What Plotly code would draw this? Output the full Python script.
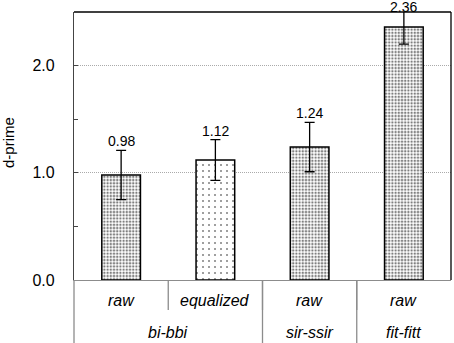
import plotly.graph_objects as go

conditions = ["raw", "equalized", "raw", "raw"]
groups = ["bi-bbi", "sir-ssir", "fit-fitt"]
group_spans = [(0, 1), (2, 2), (3, 3)]
dprime = [0.98, 1.12, 1.24, 2.36]
err = [0.23, 0.19, 0.23, 0.16]
value_labels = ["0.98", "1.12", "1.24", "2.36"]
pattern_size = [3.2, 6, 3.2, 3.2]
pattern_solidity = [0.45, 0.09, 0.45, 0.45]

FONT = "Liberation Sans"
YMAX = 2.5
pos = list(range(len(conditions)))

fig = go.Figure()
fig.add_trace(go.Bar(
    x=pos, y=dprime, width=0.41,
    marker=dict(color="white",
                line=dict(color="black", width=1.5),
                pattern=dict(shape=".", fgcolor="black", bgcolor="white",
                             size=pattern_size, solidity=pattern_solidity)),
    error_y=dict(type="data", array=err, visible=True, color="black",
                 thickness=1.3, width=5),
    cliponaxis=False,
))

for i, (v, e, lab) in enumerate(zip(dprime, err, value_labels)):
    fig.add_annotation(x=i, y=min(v + e, YMAX * 0.985), text=lab, showarrow=False,
                       yanchor="bottom", yshift=-1,
                       font=dict(family=FONT, size=14, color="black"))

# category labels row
for i, c in enumerate(conditions):
    fig.add_annotation(x=i, y=-0.078, xref="x", yref="paper", text=f"<i>{c}</i>",
                       showarrow=False, yanchor="middle",
                       font=dict(family=FONT, size=16, color="black"))
for g, (a, b) in zip(groups, group_spans):
    fig.add_annotation(x=(a + b) / 2, y=-0.195, xref="x", yref="paper", text=f"<i>{g}</i>",
                       showarrow=False, yanchor="middle",
                       font=dict(family=FONT, size=16, color="black"))

# y-axis title
fig.add_annotation(x=0, y=0.5, xref="paper", yref="paper", text="d-prime",
                   textangle=-90, showarrow=False, xanchor="center", xshift=-66,
                   yshift=3, font=dict(family=FONT, size=15, color="black"))

GRAY = "#8c8c8c"
shapes = []
for xsep in [0.5, 1.5, 2.5]:
    shapes.append(dict(type="line", xref="x", yref="paper", x0=xsep, x1=xsep,
                       y0=0, y1=-0.112, line=dict(color=GRAY, width=1.3)))
for xsep in [1.5, 2.5]:
    shapes.append(dict(type="line", xref="x", yref="paper", x0=xsep, x1=xsep,
                       y0=0, y1=-0.24, line=dict(color=GRAY, width=1.3)))
shapes.append(dict(type="line", xref="paper", yref="paper", x0=0, x1=0,
                   y0=0, y1=-0.24, line=dict(color=GRAY, width=1.3)))
shapes.append(dict(type="line", xref="paper", yref="paper", x0=0, x1=1,
                   y0=1, y1=1, line=dict(color="black", width=1.3)))
shapes.append(dict(type="line", xref="paper", yref="paper", x0=1, x1=1,
                   y0=0, y1=1, line=dict(color="black", width=1.3)))

fig.update_layout(
    width=454, height=343,
    margin=dict(l=74, r=3, t=12, b=63, autoexpand=False),
    paper_bgcolor="white", plot_bgcolor="white",
    showlegend=False,
    shapes=shapes,
    font=dict(family=FONT, size=14, color="black"),
    xaxis=dict(range=[-0.5, 3.5], showticklabels=False, ticks="",
               showgrid=False, zeroline=False, showline=True, automargin=False,
               linecolor=GRAY, linewidth=1.3, fixedrange=True),
    yaxis=dict(range=[0, YMAX], tickvals=[0, 1, 2], ticktext=["0.0", "1.0", "2.0"],
               ticks="inside", ticklen=4, tickcolor="#444", automargin=False,
               showgrid=True, gridcolor="#aaaaaa", griddash="1px,1px", gridwidth=1,
               zeroline=False, showline=True, linecolor="#444", linewidth=1.3,
               tickfont=dict(family=FONT, size=16),
               minor=dict(tickvals=[0.5, 1.5], ticks="inside", ticklen=4,
                          tickcolor="#444", showgrid=False),
               ticklabelstandoff=15),
)

fig.write_html("out.html", config={"displayModeBar": False},
               post_script="document.body.style.margin='0px';document.body.style.overflow='hidden';")
